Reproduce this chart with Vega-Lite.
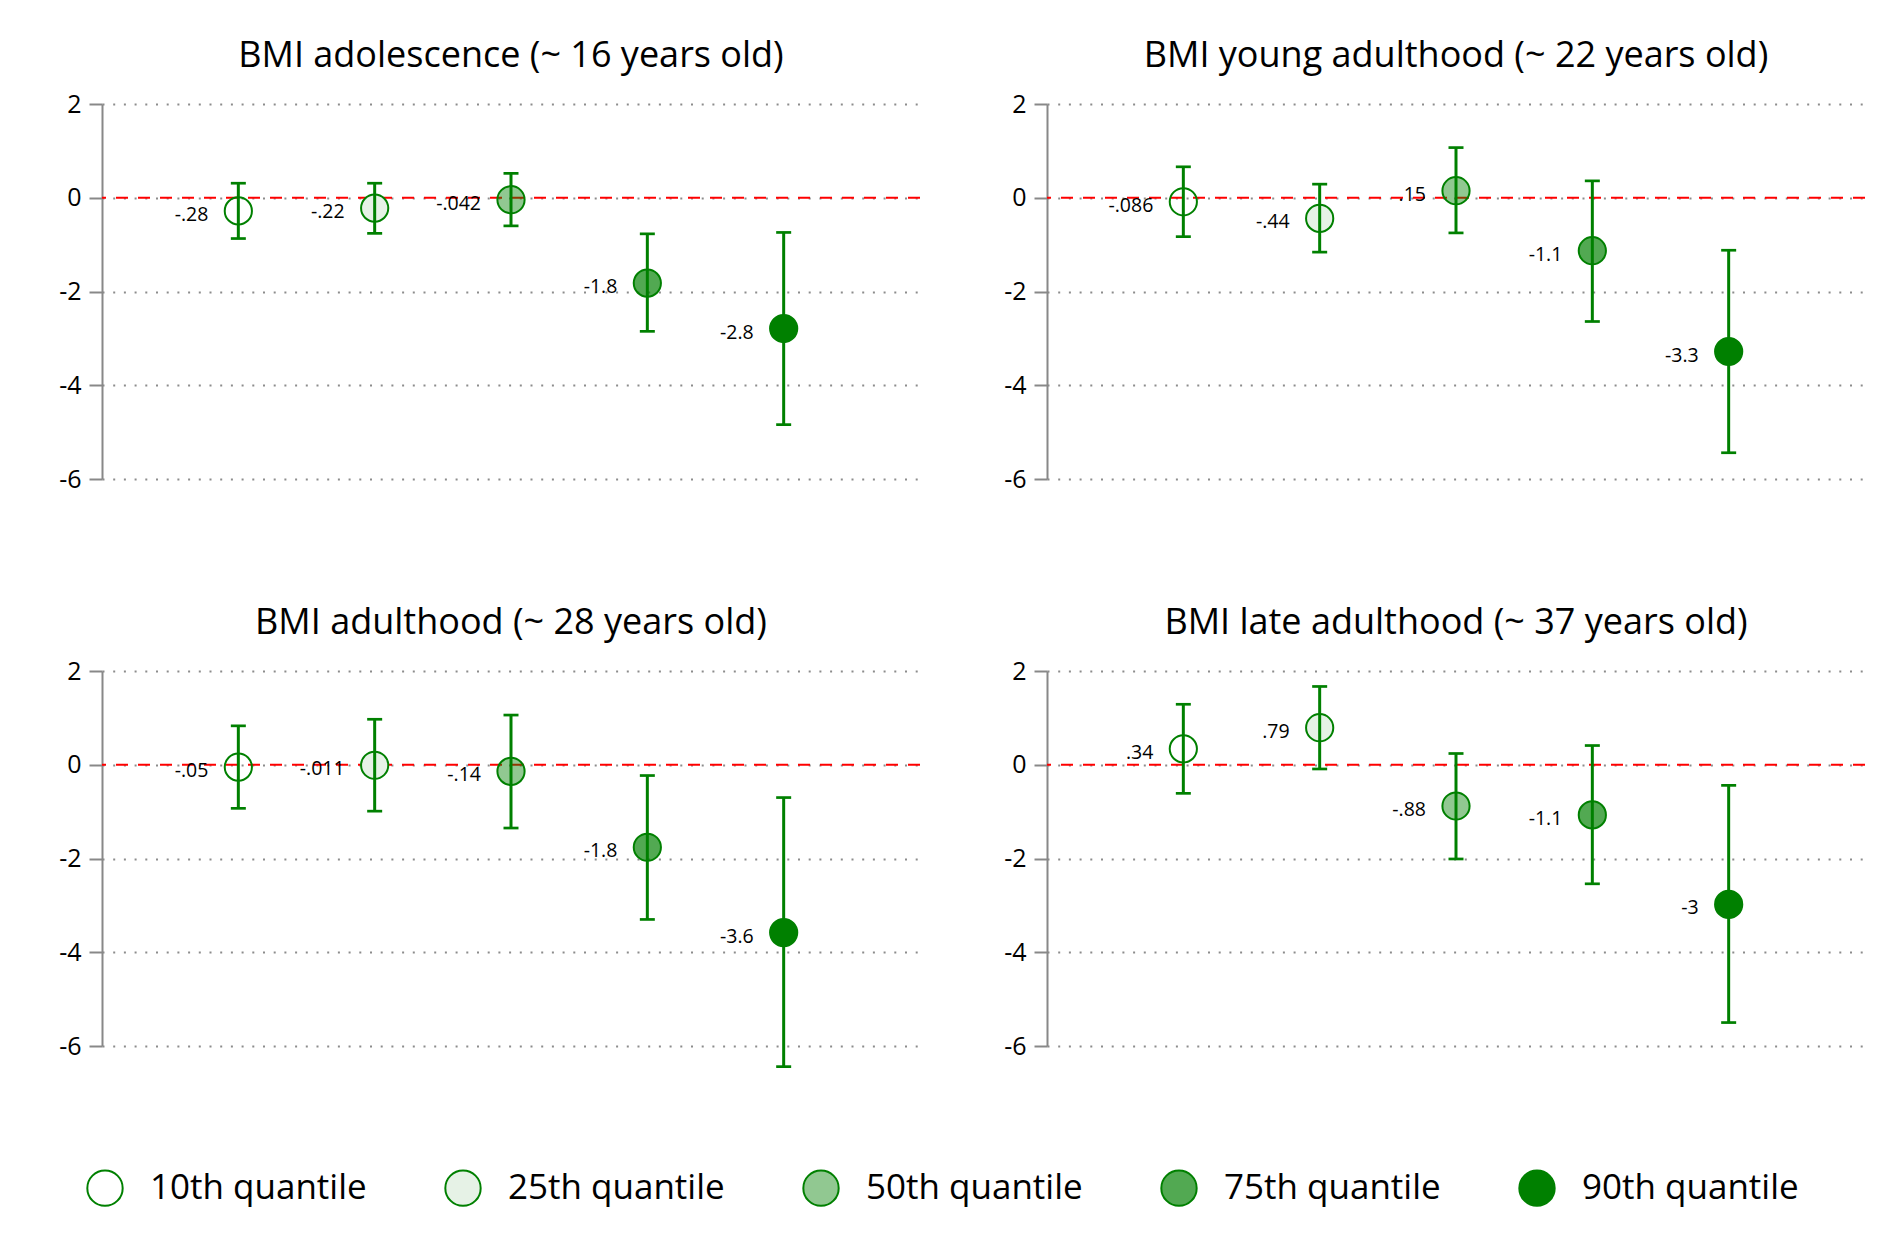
{
  "$schema": "https://vega.github.io/schema/vega-lite/v6.json",
  "background": "white",
  "padding": {"left": 58, "top": 38, "right": 10, "bottom": 10},
  "datasets": {
    "a": [
      {"q": "10th quantile", "est": -0.28, "lo": -0.87, "hi": 0.31, "label": "-.28"},
      {"q": "25th quantile", "est": -0.22, "lo": -0.76, "hi": 0.31, "label": "-.22"},
      {"q": "50th quantile", "est": -0.042, "lo": -0.60, "hi": 0.52, "label": "-.042"},
      {"q": "75th quantile", "est": -1.82, "lo": -2.85, "hi": -0.77, "label": "-1.8"},
      {"q": "90th quantile", "est": -2.79, "lo": -4.84, "hi": -0.74, "label": "-2.8"}
    ],
    "b": [
      {"q": "10th quantile", "est": -0.086, "lo": -0.83, "hi": 0.66, "label": "-.086"},
      {"q": "25th quantile", "est": -0.44, "lo": -1.16, "hi": 0.29, "label": "-.44"},
      {"q": "50th quantile", "est": 0.15, "lo": -0.75, "hi": 1.07, "label": ".15"},
      {"q": "75th quantile", "est": -1.13, "lo": -2.64, "hi": 0.36, "label": "-1.1"},
      {"q": "90th quantile", "est": -3.28, "lo": -5.44, "hi": -1.12, "label": "-3.3"}
    ],
    "c": [
      {"q": "10th quantile", "est": -0.05, "lo": -0.93, "hi": 0.83, "label": "-.05"},
      {"q": "25th quantile", "est": -0.011, "lo": -0.99, "hi": 0.97, "label": "-.011"},
      {"q": "50th quantile", "est": -0.14, "lo": -1.35, "hi": 1.06, "label": "-.14"},
      {"q": "75th quantile", "est": -1.76, "lo": -3.30, "hi": -0.23, "label": "-1.8"},
      {"q": "90th quantile", "est": -3.58, "lo": -6.44, "hi": -0.70, "label": "-3.6"}
    ],
    "d": [
      {"q": "10th quantile", "est": 0.34, "lo": -0.61, "hi": 1.29, "label": ".34"},
      {"q": "25th quantile", "est": 0.79, "lo": -0.09, "hi": 1.67, "label": ".79"},
      {"q": "50th quantile", "est": -0.88, "lo": -2.01, "hi": 0.24, "label": "-.88"},
      {"q": "75th quantile", "est": -1.07, "lo": -2.54, "hi": 0.41, "label": "-1.1"},
      {"q": "90th quantile", "est": -2.98, "lo": -5.50, "hi": -0.44, "label": "-3"}
    ],
    "zero": [{"ref": 0}]
  },
  "columns": 2,
  "spacing": {"row": 113, "column": 82},
  "resolve": {"scale": {"fill": "shared", "x": "independent", "y": "independent"}, "legend": {"fill": "shared"}},
  "concat": [
    {
      "title": "BMI adolescence (~ 16 years old)",
      "width": 818, "height": 375,
      "data": {"name": "a"},
      "layer": [
        {"data": {"name": "zero"}, "mark": {"type": "rule", "color": "#ff0000", "strokeWidth": 2, "strokeDash": [12, 10]}, "encoding": {"y": {"field": "ref", "type": "quantitative", "scale": {"domain": [-6, 2], "nice": false, "zero": false}, "axis": {"values": [-6, -4, -2, 0, 2]}}}},
        {"mark": {"type": "point", "filled": true, "stroke": "#008000", "strokeWidth": 2, "size": 740, "opacity": 1, "shape": "circle"},
         "encoding": {
           "x": {"field": "q", "type": "nominal", "sort": null, "scale": {"type": "point", "padding": 1}, "axis": null},
           "y": {"field": "est", "type": "quantitative"},
           "fill": {"field": "q", "type": "nominal", "sort": null,
             "scale": {"domain": ["10th quantile", "25th quantile", "50th quantile", "75th quantile", "90th quantile"],
                       "range": ["rgba(255,255,255,0)", "#e6f2e6", "rgba(0,128,0,0.43)", "rgba(0,128,0,0.68)", "#008000"]},
             "legend": {"orient": "none", "legendX": -16, "legendY": 1065, "direction": "horizontal", "columns": 5, "title": null}}
         }},
        {"mark": {"type": "rule", "color": "#008000", "strokeWidth": 3},
         "encoding": {"x": {"field": "q", "type": "nominal", "sort": null}, "y": {"field": "lo", "type": "quantitative"}, "y2": {"field": "hi"}}},
        {"mark": {"type": "tick", "orient": "horizontal", "color": "#008000", "size": 15, "thickness": 2.7, "opacity": 1},
         "encoding": {"x": {"field": "q", "type": "nominal", "sort": null}, "y": {"field": "lo", "type": "quantitative"}}},
        {"mark": {"type": "tick", "orient": "horizontal", "color": "#008000", "size": 15, "thickness": 2.7, "opacity": 1},
         "encoding": {"x": {"field": "q", "type": "nominal", "sort": null}, "y": {"field": "hi", "type": "quantitative"}}},
        {"mark": {"type": "text", "align": "right", "baseline": "middle", "dx": -30, "dy": 4, "fontSize": 19.5, "color": "#000000"},
         "encoding": {"x": {"field": "q", "type": "nominal", "sort": null}, "y": {"field": "est", "type": "quantitative"}, "text": {"field": "label"}}}
      ]
    },
    {
      "title": "BMI young adulthood (~ 22 years old)",
      "width": 818, "height": 375,
      "data": {"name": "b"},
      "layer": [
        {"data": {"name": "zero"}, "mark": {"type": "rule", "color": "#ff0000", "strokeWidth": 2, "strokeDash": [12, 10]}, "encoding": {"y": {"field": "ref", "type": "quantitative", "scale": {"domain": [-6, 2], "nice": false, "zero": false}, "axis": {"values": [-6, -4, -2, 0, 2]}}}},
        {"mark": {"type": "point", "filled": true, "stroke": "#008000", "strokeWidth": 2, "size": 740, "opacity": 1, "shape": "circle"},
         "encoding": {
           "x": {"field": "q", "type": "nominal", "sort": null, "scale": {"type": "point", "padding": 1}, "axis": null},
           "y": {"field": "est", "type": "quantitative"},
           "fill": {"field": "q", "type": "nominal", "sort": null}
         }},
        {"mark": {"type": "rule", "color": "#008000", "strokeWidth": 3},
         "encoding": {"x": {"field": "q", "type": "nominal", "sort": null}, "y": {"field": "lo", "type": "quantitative"}, "y2": {"field": "hi"}}},
        {"mark": {"type": "tick", "orient": "horizontal", "color": "#008000", "size": 15, "thickness": 2.7, "opacity": 1},
         "encoding": {"x": {"field": "q", "type": "nominal", "sort": null}, "y": {"field": "lo", "type": "quantitative"}}},
        {"mark": {"type": "tick", "orient": "horizontal", "color": "#008000", "size": 15, "thickness": 2.7, "opacity": 1},
         "encoding": {"x": {"field": "q", "type": "nominal", "sort": null}, "y": {"field": "hi", "type": "quantitative"}}},
        {"mark": {"type": "text", "align": "right", "baseline": "middle", "dx": -30, "dy": 4, "fontSize": 19.5, "color": "#000000"},
         "encoding": {"x": {"field": "q", "type": "nominal", "sort": null}, "y": {"field": "est", "type": "quantitative"}, "text": {"field": "label"}}}
      ]
    },
    {
      "title": "BMI adulthood (~ 28 years old)",
      "width": 818, "height": 375,
      "data": {"name": "c"},
      "layer": [
        {"data": {"name": "zero"}, "mark": {"type": "rule", "color": "#ff0000", "strokeWidth": 2, "strokeDash": [12, 10]}, "encoding": {"y": {"field": "ref", "type": "quantitative", "scale": {"domain": [-6, 2], "nice": false, "zero": false}, "axis": {"values": [-6, -4, -2, 0, 2]}}}},
        {"mark": {"type": "point", "filled": true, "stroke": "#008000", "strokeWidth": 2, "size": 740, "opacity": 1, "shape": "circle"},
         "encoding": {
           "x": {"field": "q", "type": "nominal", "sort": null, "scale": {"type": "point", "padding": 1}, "axis": null},
           "y": {"field": "est", "type": "quantitative"},
           "fill": {"field": "q", "type": "nominal", "sort": null}
         }},
        {"mark": {"type": "rule", "color": "#008000", "strokeWidth": 3},
         "encoding": {"x": {"field": "q", "type": "nominal", "sort": null}, "y": {"field": "lo", "type": "quantitative"}, "y2": {"field": "hi"}}},
        {"mark": {"type": "tick", "orient": "horizontal", "color": "#008000", "size": 15, "thickness": 2.7, "opacity": 1},
         "encoding": {"x": {"field": "q", "type": "nominal", "sort": null}, "y": {"field": "lo", "type": "quantitative"}}},
        {"mark": {"type": "tick", "orient": "horizontal", "color": "#008000", "size": 15, "thickness": 2.7, "opacity": 1},
         "encoding": {"x": {"field": "q", "type": "nominal", "sort": null}, "y": {"field": "hi", "type": "quantitative"}}},
        {"mark": {"type": "text", "align": "right", "baseline": "middle", "dx": -30, "dy": 4, "fontSize": 19.5, "color": "#000000"},
         "encoding": {"x": {"field": "q", "type": "nominal", "sort": null}, "y": {"field": "est", "type": "quantitative"}, "text": {"field": "label"}}}
      ]
    },
    {
      "title": "BMI late adulthood (~ 37 years old)",
      "width": 818, "height": 375,
      "data": {"name": "d"},
      "layer": [
        {"data": {"name": "zero"}, "mark": {"type": "rule", "color": "#ff0000", "strokeWidth": 2, "strokeDash": [12, 10]}, "encoding": {"y": {"field": "ref", "type": "quantitative", "scale": {"domain": [-6, 2], "nice": false, "zero": false}, "axis": {"values": [-6, -4, -2, 0, 2]}}}},
        {"mark": {"type": "point", "filled": true, "stroke": "#008000", "strokeWidth": 2, "size": 740, "opacity": 1, "shape": "circle"},
         "encoding": {
           "x": {"field": "q", "type": "nominal", "sort": null, "scale": {"type": "point", "padding": 1}, "axis": null},
           "y": {"field": "est", "type": "quantitative"},
           "fill": {"field": "q", "type": "nominal", "sort": null}
         }},
        {"mark": {"type": "rule", "color": "#008000", "strokeWidth": 3},
         "encoding": {"x": {"field": "q", "type": "nominal", "sort": null}, "y": {"field": "lo", "type": "quantitative"}, "y2": {"field": "hi"}}},
        {"mark": {"type": "tick", "orient": "horizontal", "color": "#008000", "size": 15, "thickness": 2.7, "opacity": 1},
         "encoding": {"x": {"field": "q", "type": "nominal", "sort": null}, "y": {"field": "lo", "type": "quantitative"}}},
        {"mark": {"type": "tick", "orient": "horizontal", "color": "#008000", "size": 15, "thickness": 2.7, "opacity": 1},
         "encoding": {"x": {"field": "q", "type": "nominal", "sort": null}, "y": {"field": "hi", "type": "quantitative"}}},
        {"mark": {"type": "text", "align": "right", "baseline": "middle", "dx": -30, "dy": 4, "fontSize": 19.5, "color": "#000000"},
         "encoding": {"x": {"field": "q", "type": "nominal", "sort": null}, "y": {"field": "est", "type": "quantitative"}, "text": {"field": "label"}}}
      ]
    }
  ],
  "config": {
    "font": "Open Sans",
    "view": {"stroke": null},
    "title": {"fontSize": 36, "fontWeight": "normal", "color": "#000000", "anchor": "middle", "frame": "group", "offset": 17},
    "axisY": {
      "title": null,
      "domainColor": "#888888", "domainWidth": 2,
      "tickColor": "#888888", "tickWidth": 2, "tickSize": 13,
      "labelFontSize": 25, "labelColor": "#000000", "labelPadding": 8,
      "labelExpr": "'' + datum.value",
      "grid": true, "gridColor": "#8c8c8c", "gridWidth": 2, "gridDash": [2, 8.7]
    },
    "legend": {
      "symbolType": "circle", "symbolSize": 1250, "symbolStrokeColor": "#008000", "symbolStrokeWidth": 2, "symbolOpacity": 1,
      "labelFontSize": 35, "labelColor": "#000000", "labelOffset": 26, "labelLimit": 0,
      "columnPadding": 74
    }
  }
}
